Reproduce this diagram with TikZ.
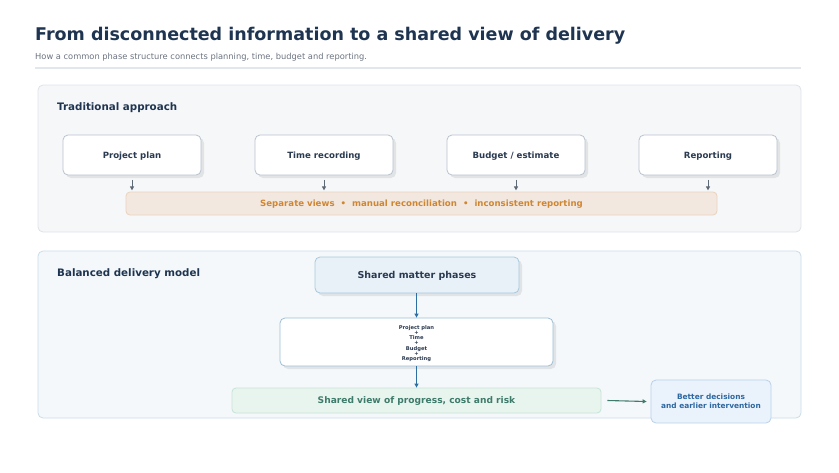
\documentclass[tikz,border=0pt]{standalone}
\usepackage{fontspec}
\setmainfont{DejaVu Sans}
\usetikzlibrary{shadows,arrows.meta}
\definecolor{navy}{HTML}{1E3450}
\definecolor{boxtxt}{HTML}{2A3A50}
\definecolor{subgray}{HTML}{6B7380}
\definecolor{rulegray}{HTML}{E2E7EE}
\definecolor{panelA}{HTML}{F6F7F9}
\definecolor{panelAb}{HTML}{DDE2EA}
\definecolor{panelB}{HTML}{F4F8FA}
\definecolor{panelBb}{HTML}{C9DCEA}
\definecolor{boxb}{HTML}{B8C3CF}
\definecolor{arrgray}{HTML}{5F6875}
\definecolor{tanfill}{HTML}{F3E8DF}
\definecolor{tanb}{HTML}{E9D2BE}
\definecolor{tantxt}{HTML}{CF8633}
\definecolor{phfill}{HTML}{E8F1F8}
\definecolor{phb}{HTML}{A9C8DC}
\definecolor{midb}{HTML}{9CBFD6}
\definecolor{bluearr}{HTML}{2D6FA3}
\definecolor{grfill}{HTML}{E8F5EF}
\definecolor{grb}{HTML}{C6E3D5}
\definecolor{grtxt}{HTML}{3F7B6B}
\definecolor{rbfill}{HTML}{EAF2FC}
\definecolor{rbb}{HTML}{B9D0EC}
\definecolor{rbtxt}{HTML}{2D67A0}
\tikzset{
  panel/.style={draw, rounded corners=5pt, line width=0.8pt},
  softshadow/.style={drop shadow={shadow xshift=3pt, shadow yshift=-3pt, fill=black, opacity=0.08}},
  srcbox/.style={draw=boxb, fill=white, rounded corners=5pt, line width=0.8pt, text depth=0pt,
    minimum width=138pt, minimum height=40pt, font=\fontsize{8.6}{10}\selectfont\bfseries, text=boxtxt, softshadow},
  sarrow/.style={-{Triangle[length=4pt,width=4pt]}, line width=0.9pt},
  heading/.style={anchor=west, inner sep=0pt, font=\fontsize{10.3}{12}\selectfont\bfseries, text=navy}
}
\begin{document}
\begin{tikzpicture}[x=1pt,y=-1pt]
\useasboundingbox (0,0) rectangle (839,472);
% title
\node[anchor=base west, inner sep=0, font=\fontsize{17.5}{21}\selectfont\bfseries, text=navy] (title) at (35,40) {From disconnected information to a shared view of delivery};
\node[anchor=base west, inner sep=0, font=\fontsize{8.3}{10}\selectfont, text=subgray] (sub) at (35,59.5) {How a common phase structure connects planning, time, budget and reporting.};
\draw[rulegray, line width=1.5pt] (35,68) -- (801,68);
% top panel
\draw[panel, draw=panelAb, fill=panelA] (38,85) rectangle (801,232);
\node[heading] (tradh) at (57,107.5) {Traditional approach};
\node[srcbox] (pp) at (132,155) {Project plan};
\node[srcbox] (tr) at (324,155) {Time recording};
\node[srcbox] (be) at (516,155) {Budget / estimate};
\node[srcbox] (rp) at (708,155) {Reporting};
\node[draw=tanb, fill=tanfill, rounded corners=4pt, line width=0.8pt, minimum width=591pt, minimum height=23pt, text depth=0pt,
  font=\fontsize{8.6}{10}\selectfont\bfseries, text=tantxt] (bar) at (421.5,203.5)
  {Separate views\hspace{0.7em}\textbullet\hspace{0.7em}manual reconciliation\hspace{0.7em}\textbullet\hspace{0.7em}inconsistent reporting};
\foreach \n in {pp,tr,be,rp}{
  \draw[sarrow, arrgray] ([yshift=-4.5pt]\n.south) -- ([yshift=-15pt]\n.south);
}
% bottom panel
\draw[panel, draw=panelBb, fill=panelB] (38,251) rectangle (801,418);
\node[heading] (balh) at (57,273.5) {Balanced delivery model};
\node[draw=phb, fill=phfill, rounded corners=5pt, line width=0.8pt, minimum width=204pt, minimum height=36pt, text depth=0pt,
  font=\fontsize{9.5}{12}\selectfont\bfseries, text=boxtxt, softshadow] (ph) at (417,275) {Shared matter phases};
\node[draw=midb, fill=white, rounded corners=5pt, line width=0.8pt, minimum width=273pt, minimum height=48pt, softshadow] (mid) at (416.5,342) {};
\node[font=\fontsize{5.2}{5.2}\selectfont\bfseries, text=boxtxt, align=center, inner sep=0pt] (midtxt) at (416.5,343.5)
  {Project plan\\+\\Time\\+\\Budget\\+\\Reporting};
\node[draw=grb, fill=grfill, rounded corners=4pt, line width=0.8pt, minimum width=369pt, minimum height=25pt, text depth=0pt,
  font=\fontsize{9.1}{10}\selectfont\bfseries, text=grtxt] (gr) at (416.5,400.5) {Shared view of progress, cost and risk};
\node[draw=rbb, fill=rbfill, rounded corners=5pt, line width=0.8pt, minimum width=120pt, minimum height=43pt,
  font=\fontsize{7.4}{9}\selectfont\bfseries, text=rbtxt, align=center] (rb) at (711,401.5) {Better decisions\\and earlier intervention};
\draw[sarrow, bluearr, line width=1.1pt] (ph.south -| mid.north) -- (mid.north);
\draw[sarrow, bluearr, line width=1.1pt] (mid.south) -- (gr.north);
\draw[sarrow, grtxt, line width=1.1pt] ([xshift=6pt]gr.east) -- ([xshift=-4pt]rb.west);
\end{tikzpicture}
\end{document}
